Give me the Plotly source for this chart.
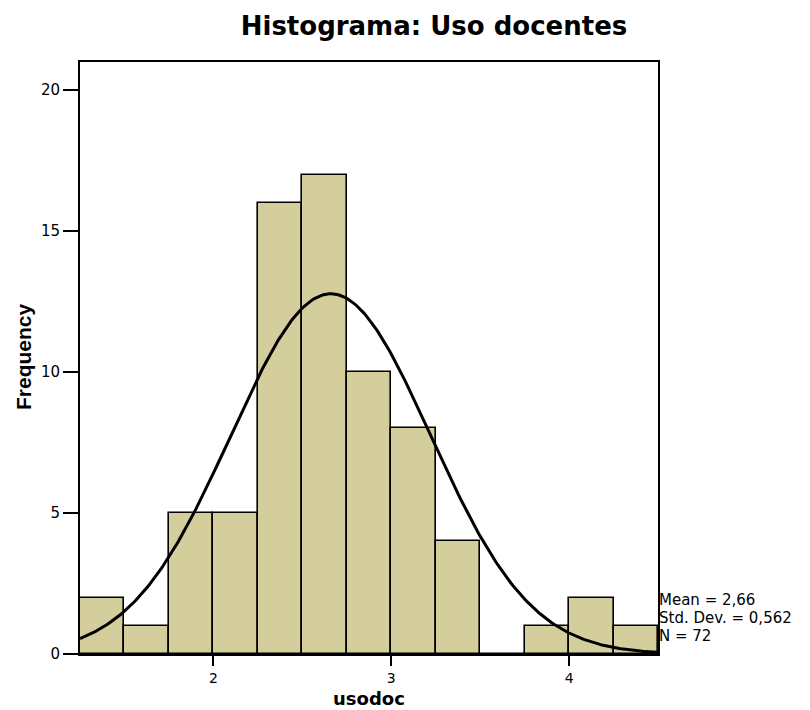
import numpy as np
import plotly.graph_objects as go

# Data
bin_edges = [1.25, 1.5, 1.75, 2.0, 2.25, 2.5, 2.75, 3.0, 3.25, 3.5, 3.75, 4.0, 4.25, 4.5]
counts = [2, 1, 5, 5, 16, 17, 10, 8, 4, 0, 1, 2, 1]
mean_val = 2.66
std_val = 0.562
n_val = 72
x_ticks = [2, 3, 4]
y_ticks = [0, 5, 10, 15, 20]

centers = [(a + b) / 2 for a, b in zip(bin_edges[:-1], bin_edges[1:])]
widths = [b - a for a, b in zip(bin_edges[:-1], bin_edges[1:])]
bw = widths[0]

# Normal curve from mean / sd / N
xc = np.linspace(bin_edges[0], bin_edges[-1], 300)
yc = n_val * bw / (std_val * np.sqrt(2 * np.pi)) * np.exp(-0.5 * ((xc - mean_val) / std_val) ** 2)

FONT = "DejaVu Sans, Arial, sans-serif"

fig = go.Figure()
fig.add_trace(go.Bar(
    x=centers, y=counts, width=widths,
    marker=dict(color="#D3CE9B", line=dict(color="black", width=1.6)),
    hoverinfo="x+y",
))
fig.add_trace(go.Scatter(
    x=xc, y=yc, mode="lines",
    line=dict(color="black", width=3),
    hoverinfo="skip",
))

fig.update_layout(
    width=810, height=710,
    margin=dict(l=80, r=152, t=62, b=56, autoexpand=False),
    paper_bgcolor="white", plot_bgcolor="white",
    showlegend=False,
    bargap=0,
    font=dict(family=FONT, color="black"),
    title=dict(text="<b>Histograma: Uso docentes</b>", x=434 / 810, xanchor="center",
               y=1 - 26 / 710, yanchor="middle",
               font=dict(size=26, family=FONT)),
)
fig.update_xaxes(
    range=[bin_edges[0], bin_edges[-1]],
    tickvals=x_ticks, ticktext=[str(v) for v in x_ticks],
    ticks="outside", ticklen=10, tickwidth=2, tickcolor="black",
    showline=True, linecolor="black", linewidth=2, mirror=True,
    showgrid=False, zeroline=False, automargin=False,
    tickfont=dict(size=14),
)
fig.update_yaxes(
    range=[0, 21],
    tickvals=y_ticks, ticktext=[str(v) for v in y_ticks],
    ticks="outside", ticklen=15, tickwidth=2, tickcolor="black",
    showline=True, linecolor="black", linewidth=2, mirror=True,
    showgrid=False, zeroline=False, automargin=False,
    tickfont=dict(size=15),
)

# x-axis title
fig.add_annotation(
    x=0.5, y=0, xref="paper", yref="paper",
    xanchor="center", yanchor="bottom", yshift=-(709.5 - 654),
    showarrow=False, text="<b>usodoc</b>", font=dict(size=18), borderpad=0,
)

# y-axis title
fig.add_annotation(
    x=0, y=(654 - 357) / 592, xref="paper", yref="paper",
    xanchor="center", yanchor="middle", xshift=-57,
    textangle=-90, showarrow=False,
    text="<b>Frequency</b>",
    font=dict(size=21, family="Liberation Sans, Arial, sans-serif"),
)

stats_lines = [
    f"Mean = {str(mean_val).replace('.', ',')}",
    f"Std. Dev. = {str(std_val).replace('.', ',')}",
    f"N = {n_val}",
]
line_centers_px = [599, 617, 635]
for txt, ypx in zip(stats_lines, line_centers_px):
    fig.add_annotation(
        x=1, y=0, xref="paper", yref="paper", xanchor="left", yanchor="middle",
        xshift=0, yshift=654 - ypx - 1,
        align="left", showarrow=False, text=txt,
        font=dict(size=15), borderpad=0,
    )

fig.write_html("out.html", config={"displayModeBar": False},
               post_script="document.body.style.margin='0px';")
